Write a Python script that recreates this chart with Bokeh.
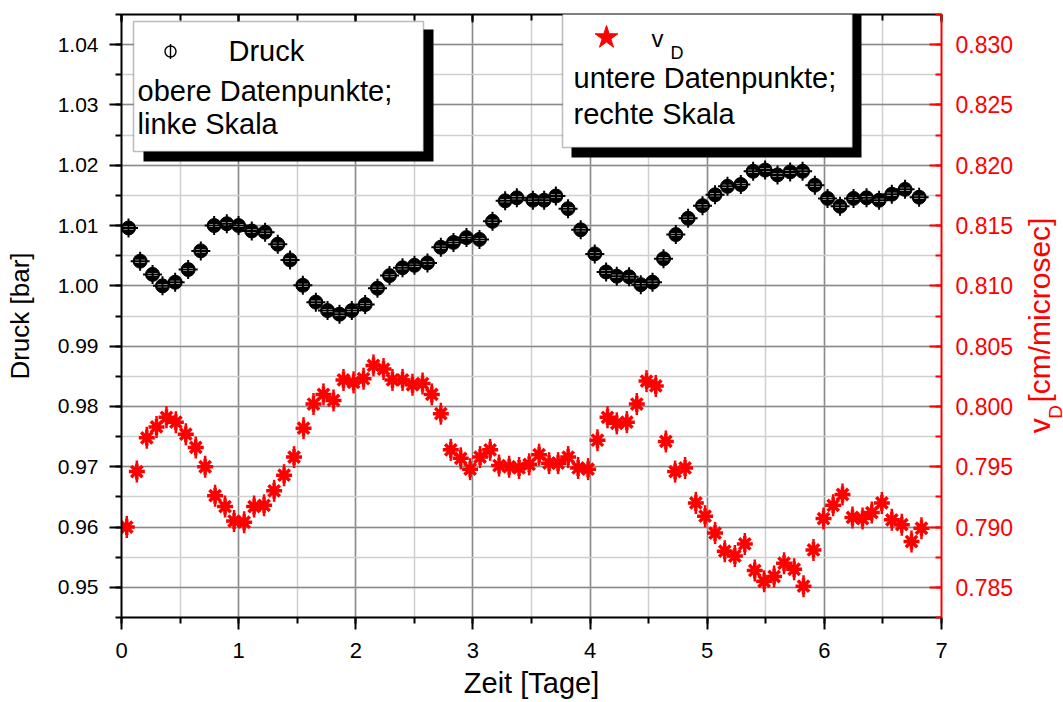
from bokeh.plotting import figure
from bokeh.layouts import row
from bokeh.models import (Range1d, LinearAxis, SingleIntervalTicker, NumeralTickFormatter,
                          BoxAnnotation, Label, CustomJSTickFormatter)
from bokeh.core.properties import value
from bokeh.embed import file_html
from bokeh.resources import INLINE
import math

# ---------------- data ----------------
zeit_druck = [0.060, 0.159, 0.265, 0.350, 0.458, 0.569, 0.677, 0.791, 0.899, 0.999,
              1.112, 1.226, 1.334, 1.439, 1.548, 1.659, 1.759, 1.861, 1.966, 2.080,
              2.185, 2.288, 2.399, 2.501, 2.612, 2.726, 2.834, 2.945, 3.056, 3.167,
              3.275, 3.375, 3.512, 3.608, 3.708, 3.812, 3.920, 4.040, 4.137, 4.228,
              4.333, 4.433, 4.533, 4.627, 4.732, 4.837, 4.960, 5.067, 5.173, 5.287,
              5.392, 5.494, 5.600, 5.708, 5.814, 5.919, 6.027, 6.134, 6.249, 6.360,
              6.467, 6.576, 6.689, 6.809]
druck = [1.0096, 1.0041, 1.0019, 1.0000, 1.0006, 1.0027, 1.0058, 1.0100, 1.0103, 1.0100,
         1.0091, 1.0089, 1.0069, 1.0043, 1.0001, 0.9973, 0.9959, 0.9953, 0.9959, 0.9969,
         0.9996, 1.0017, 1.0030, 1.0034, 1.0038, 1.0064, 1.0072, 1.0080, 1.0077, 1.0107,
         1.0141, 1.0146, 1.0142, 1.0142, 1.0149, 1.0128, 1.0093, 1.0053, 1.0023, 1.0016,
         1.0015, 1.0002, 1.0006, 1.0045, 1.0085, 1.0112, 1.0133, 1.0151, 1.0165, 1.0168,
         1.0190, 1.0192, 1.0184, 1.0189, 1.0190, 1.0167, 1.0145, 1.0132, 1.0145, 1.0146,
         1.0142, 1.0152, 1.0160, 1.0147]

zeit_vd = [0.045, 0.131, 0.216, 0.299, 0.384, 0.464, 0.549, 0.634, 0.714, 0.799,
           0.884, 0.961, 1.047, 1.132, 1.217, 1.303, 1.388, 1.473, 1.554, 1.639,
           1.724, 1.810, 1.895, 1.981, 2.066, 2.151, 2.237, 2.313, 2.399, 2.484,
           2.570, 2.649, 2.726, 2.811, 2.896, 2.976, 3.061, 3.147, 3.223, 3.309,
           3.394, 3.480, 3.565, 3.650, 3.727, 3.813, 3.898, 3.983, 4.063, 4.149,
           4.228, 4.314, 4.399, 4.482, 4.561, 4.647, 4.726, 4.811, 4.903, 4.982,
           5.067, 5.150, 5.236, 5.321, 5.406, 5.486, 5.571, 5.656, 5.742, 5.822,
           5.907, 5.993, 6.075, 6.155, 6.240, 6.326, 6.405, 6.491, 6.576, 6.661,
           6.744, 6.829]
vd = [0.7900, 0.7946, 0.7974, 0.7983, 0.7991, 0.7987, 0.7977, 0.7966, 0.7950, 0.7926,
      0.7917, 0.7905, 0.7904, 0.7917, 0.7918, 0.7930, 0.7943, 0.7958, 0.7982, 0.8002,
      0.8010, 0.8005, 0.8022, 0.8020, 0.8023, 0.8034, 0.8031, 0.8022, 0.8022, 0.8018,
      0.8019, 0.8010, 0.7994, 0.7964, 0.7957, 0.7948, 0.7958, 0.7964, 0.7951, 0.7950,
      0.7949, 0.7952, 0.7960, 0.7953, 0.7953, 0.7958, 0.7949, 0.7948, 0.7972, 0.7991,
      0.7986, 0.7987, 0.8002, 0.8021, 0.8017, 0.7971, 0.7946, 0.7949, 0.7920, 0.7909,
      0.7895, 0.7880, 0.7876, 0.7886, 0.7864, 0.7855, 0.7859, 0.7870, 0.7865, 0.7851,
      0.7881, 0.7907, 0.7918, 0.7927, 0.7908, 0.7907, 0.7912, 0.7920, 0.7906, 0.7902,
      0.7888, 0.7899]

x_label = "Zeit [Tage]"
y_label = "Druck [bar]"
y2_label = ["v", "D", "[cm/microsec]"]
legend1_lines = ["Druck", "obere Datenpunkte;", "linke Skala"]
legend2_lines = ["v", "D", "untere Datenpunkte;", "rechte Skala"]

FONT = "Liberation Sans"
RED = "#ff0000"

B_LEFT, B_RIGHT, B_TOP, B_BOTTOM = 121, 86, 14, 90
FW, FH = 820, 603
W1 = B_LEFT + FW + B_RIGHT
H = B_TOP + FH + B_BOTTOM

p = figure(width=W1, height=H, output_backend="svg", toolbar_location=None,
           x_range=Range1d(0, 7), y_range=Range1d(0.945, 1.045),
           min_border_left=B_LEFT, min_border_right=B_RIGHT, min_border_top=B_TOP,
           min_border_bottom=B_BOTTOM,
           background_fill_color="white", border_fill_color="white")
p.outline_line_color = None
p.extra_y_ranges = {"right": Range1d(0.7825, 0.8325), "px": Range1d(0, FH)}
p.extra_x_ranges = {"px": Range1d(0, FW)}

# ---- axes ----
def style_axis(ax, color="black", tick_size="22px", label_size="28px"):
    ax.axis_line_color = color
    ax.axis_line_width = 2
    ax.major_tick_line_color = color
    ax.minor_tick_line_color = color
    ax.major_tick_line_width = 2
    ax.minor_tick_line_width = 2
    ax.major_label_text_font = FONT
    ax.major_label_text_color = color
    ax.major_label_text_font_size = tick_size
    ax.axis_label_text_font = FONT
    ax.axis_label_text_font_style = "normal"
    ax.axis_label_text_color = color
    ax.axis_label_text_font_size = label_size

xax = p.xaxis[0]
xax.ticker = SingleIntervalTicker(interval=1, num_minor_ticks=2)
xax.formatter = NumeralTickFormatter(format="0")
style_axis(xax, label_size="29px")
xax.major_tick_out = 12
xax.major_tick_in = 0
xax.minor_tick_out = 6
xax.minor_tick_in = 0
xax.major_label_standoff = 13
xax.axis_label = x_label
xax.axis_label_standoff = 6

yax = p.yaxis[0]
yax.ticker = SingleIntervalTicker(interval=0.01, num_minor_ticks=2)
yax.formatter = NumeralTickFormatter(format="0.00")
style_axis(yax, tick_size="21px", label_size="26px")
yax.major_tick_out = 12
yax.major_tick_in = 0
yax.minor_tick_out = 6
yax.minor_tick_in = 0
yax.major_label_standoff = 11
yax.axis_label = y_label
yax.axis_label_standoff = 20

rax = LinearAxis(y_range_name="right",
                 ticker=SingleIntervalTicker(interval=0.005, num_minor_ticks=2),
                 formatter=NumeralTickFormatter(format="0.000"))
style_axis(rax, RED, tick_size="23px")
rax.major_tick_out = 0
rax.major_tick_in = 12
rax.minor_tick_out = 0
rax.minor_tick_in = 6
rax.major_label_standoff = 14
p.add_layout(rax, "right")

tax = LinearAxis(ticker=SingleIntervalTicker(interval=1, num_minor_ticks=2),
                 formatter=CustomJSTickFormatter(code="return ''"))
style_axis(tax, tick_size="8px")
tax.major_tick_out = 0
tax.major_tick_in = 8
tax.minor_tick_out = 0
tax.minor_tick_in = 6
tax.major_label_standoff = 0
p.add_layout(tax, "above")

# ---- grid ----
for g in (p.xgrid[0], p.ygrid[0]):
    g.grid_line_color = "#8a8a8a"
    g.grid_line_width = 1.5
    g.minor_grid_line_color = "#cfcfcf"
    g.minor_grid_line_width = 1.5

# ---- data glyphs ----
p.scatter(zeit_druck, druck, marker="circle", size=14, fill_color="black", line_color="black")
p.scatter(zeit_druck, druck, marker="dash", size=10, line_color="white", line_width=3)
p.scatter(zeit_druck, druck, marker="cross", size=19, line_color="black", line_width=2)

p.scatter(zeit_vd, vd, y_range_name="right", marker="dash", angle=math.pi / 2, size=22,
          line_color=RED, line_width=2.5)
p.scatter(zeit_vd, vd, y_range_name="right", marker="asterisk", size=16,
          line_color=RED, line_width=3.5)

# ---- legend boxes (screen coords relative to frame, origin bottom-left) ----
def box(l, r, t, b, fill, line):
    return BoxAnnotation(left=l, right=r, top=t, bottom=b,
                         left_units="screen", right_units="screen",
                         top_units="screen", bottom_units="screen",
                         fill_color=fill, fill_alpha=1, line_color=line, line_width=1.5,
                         level="annotation")

p.add_layout(box(22, 312, 588, 456, "black", None))
p.add_layout(box(12, 302, 596, 466, "white", "#222222"))
p.add_layout(box(450, 740, 603, 460, "black", None))
p.add_layout(box(441, 731, 612, 470, "white", "#222222"))

def lab(x, y, text, size="29px", color="black", align="left", baseline="middle"):
    p.add_layout(Label(x=x, y=y, x_units="screen", y_units="screen", text=text,
                       text_font=FONT, text_font_size=size, text_color=color,
                       text_align=align, text_baseline=baseline))

lab(107, 567, legend1_lines[0])
lab(16, 527, legend1_lines[1])
lab(16, 494, legend1_lines[2])

lab(530, 579, legend2_lines[0], size="24px")
lab(549, 565, legend2_lines[1], size="18px")
lab(452, 540, legend2_lines[2])
lab(452, 504, legend2_lines[3])

# legend keys, placed in frame pixel coordinates
p.scatter([49], [566], x_range_name="px", y_range_name="px", marker="circle", size=11,
          fill_color=None, line_color="black", line_width=1.4, level="overlay")
p.scatter([49], [566], x_range_name="px", y_range_name="px", marker="dash", angle=math.pi / 2,
          size=15, line_color="black", line_width=1.4, level="overlay")
p.scatter([485], [580], x_range_name="px", y_range_name="px", marker="star", size=24,
          fill_color=RED, line_color=RED, level="overlay")

# ---- right-hand title strip (rotated red axis title with subscript) ----
W2 = 1063 - W1
p2 = figure(width=W2, height=H, output_backend="svg", toolbar_location=None,
            x_axis_location=None, y_axis_location=None,
            x_range=Range1d(0, W2), y_range=Range1d(0, H),
            min_border=0, min_border_left=0, min_border_right=0,
            min_border_top=0, min_border_bottom=0,
            background_fill_color="white", border_fill_color="white")
p2.grid.visible = False
p2.outline_line_color = None
p2.text(x=[1039 - W1], y=[H - 491], text=[y2_label[0]], angle=math.pi / 2,
        text_font=value(FONT), text_font_size=value("30px"), text_color=RED,
        text_align="left", text_baseline="middle")
p2.text(x=[1055 - W1], y=[H - 474], text=[y2_label[1]], angle=math.pi / 2,
        text_font=value(FONT), text_font_size=value("19px"), text_color=RED,
        text_align="left", text_baseline="middle")
p2.text(x=[1039 - W1], y=[H - 455], text=[y2_label[2]], angle=math.pi / 2,
        text_font=value(FONT), text_font_size=value("30px"), text_color=RED,
        text_align="left", text_baseline="middle")

layout = row(p, p2)
open("out.html", "w").write(file_html(layout, INLINE))
